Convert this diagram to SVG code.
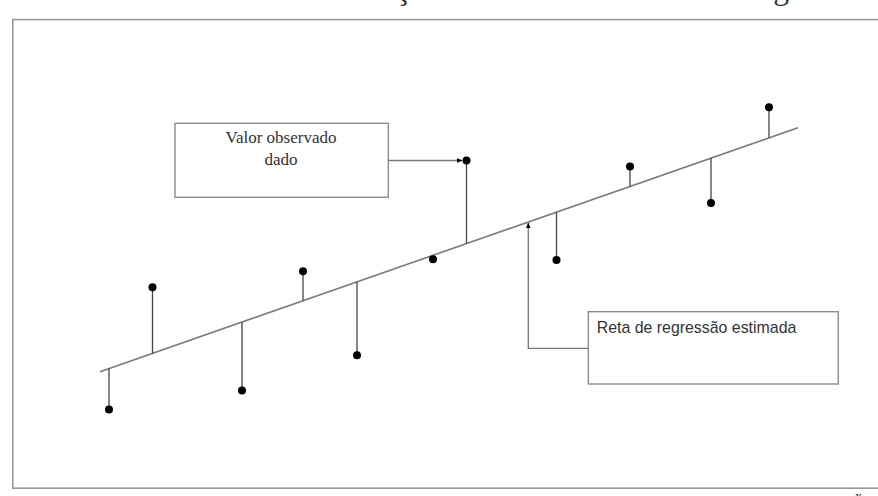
<svg xmlns="http://www.w3.org/2000/svg" width="878" height="496" viewBox="0 0 878 496">
<defs>
<style>
.frame{fill:none;stroke:#9a9a9a;stroke-width:1.6}
.box{fill:#fff;stroke:#8c8c8c;stroke-width:1.4}
.reg{stroke:#7a7a7a;stroke-width:1.6;fill:none}
.stem{stroke:#444;stroke-width:1.3;fill:none}
.dot{fill:#000}
.conn{stroke:#777;stroke-width:1.3;fill:none}
.serif{font-family:"Liberation Serif","Times New Roman",serif;fill:#333}
.sans{font-family:"Liberation Sans",Arial,sans-serif;fill:#333}
</style>
<marker id="ah" viewBox="0 0 10 10" refX="9" refY="5" markerWidth="6" markerHeight="6" orient="auto" markerUnits="userSpaceOnUse">
<path d="M0,1 L10,5 L0,9 z" fill="#000"/>
</marker>
</defs>
<rect width="878" height="496" fill="#fff"/>
<text class="serif" x="-68" y="-1" font-size="31.7">Figura 3 – Desvio dos dados em relação ao modelo estimado de regressão</text>
<rect class="frame" x="12.8" y="19.6" width="880" height="468.6"/>
<text class="serif" x="855" y="501" font-size="14">x</text>
<g id="regression-line">
<line class="reg" x1="100" y1="371.7" x2="798" y2="127.7"/>
</g>
<g id="data-points">
<line class="stem" x1="109" y1="368.6" x2="109" y2="409"/><circle class="dot" cx="109" cy="409.5" r="4"/>
<line class="stem" x1="152.5" y1="353.4" x2="152.5" y2="287"/><circle class="dot" cx="152.5" cy="287.3" r="4"/>
<line class="stem" x1="242" y1="322.1" x2="242" y2="390"/><circle class="dot" cx="242" cy="390.5" r="4"/>
<line class="stem" x1="303" y1="300.7" x2="303" y2="271"/><circle class="dot" cx="303" cy="271.3" r="4"/>
<line class="stem" x1="357" y1="281.9" x2="357" y2="355"/><circle class="dot" cx="357" cy="355.3" r="4"/>
<circle class="dot" cx="433" cy="259.3" r="4"/>
<line class="stem" x1="466.5" y1="243.5" x2="466.5" y2="160.5"/><circle class="dot" cx="466.5" cy="160.5" r="4"/>
<line class="stem" x1="556.5" y1="212.1" x2="556.5" y2="260"/><circle class="dot" cx="556.5" cy="260" r="4"/>
<line class="stem" x1="630" y1="186.4" x2="630" y2="166.5"/><circle class="dot" cx="630" cy="166.5" r="4"/>
<line class="stem" x1="711" y1="158.1" x2="711" y2="203"/><circle class="dot" cx="711" cy="203" r="4"/>
<line class="stem" x1="769" y1="137.8" x2="769" y2="107.3"/><circle class="dot" cx="769" cy="107.3" r="4"/>
</g>
<g id="node-valor">
<rect class="box" x="175" y="123.3" width="213.3" height="74"/>
<text class="serif" x="281" y="143" font-size="17" text-anchor="middle">Valor observado</text>
<text class="serif" x="281" y="165" font-size="17" text-anchor="middle">dado</text>
</g>
<g id="node-reta">
<rect class="box" x="588.3" y="311.7" width="250" height="72.3"/>
<text class="sans" x="596.7" y="333" font-size="15.9">Reta de regressão estimada</text>
</g>
<g id="connectors">
<path class="conn" d="M388.3,160.5 H462" marker-end="url(#ah)"/>
<path class="conn" d="M588.3,348.3 H528.3 V223" marker-end="url(#ah)"/>
</g>
</svg>
